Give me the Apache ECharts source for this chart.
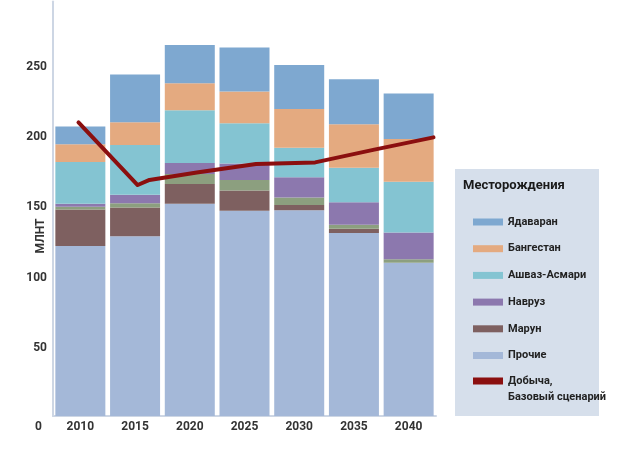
<!DOCTYPE html>
<html><head><meta charset="utf-8">
<script src="https://cdn.jsdelivr.net/npm/echarts@6/dist/echarts.min.js"></script>
<style>html,body{margin:0;padding:0;background:#fff}#c{width:640px;height:468px}</style>
</head><body><div id="c"></div>
<script>
const categories = ['2010','2015','2020','2025','2030','2035','2040'];
const prochie   = [121, 128, 151, 146, 146.4, 130.3, 109];
const marun     = [26, 20.4, 14.2, 14.5, 3.8, 3, 0];
const other     = [2, 3.1, 7.1, 7.4, 5.4, 2.8, 2.6];
const navruz    = [2, 5.9, 7.7, 11.9, 14.3, 16, 19];
const ashvaz    = [29.7, 35.4, 37.7, 28.6, 21.1, 24.6, 36.1];
const bangestan = [12.8, 16.3, 19.2, 22.6, 27.5, 30.9, 30.4];
const yadavaran = [12.6, 34, 27.2, 31.3, 31.3, 32, 32.5];
const lineYears = [2010, 2015, 2016, 2020, 2025, 2030, 2035, 2040];
const lineVals  = [209, 164.4, 168, 173.3, 179.4, 180.5, 189.6, 198.3];
const yTicks = [0, 50, 100, 150, 200, 250];

const FONT = "Roboto, 'Liberation Sans', sans-serif";
const colors = {
  'Ядаваран': '#7ea8d0',
  'Бангестан': '#e4aa80',
  'Ашваз-Асмари': '#84c4d2',
  'Навруз': '#8c78ae',
  'Другие': '#8c9f7f',
  'Марун': '#7e6060',
  'Прочие': '#a4b8d8'
};
const LINE_NAME = 'Добыча,\nБазовый сценарий';
const LINE_COLOR = '#8b0f0f';
const PX = 1.405, Y0 = 416, YMAX = 295;

function bar(name, data) {
  return { name, type: 'bar', stack: 'total', data, barWidth: 50,
    itemStyle: { color: colors[name] }, xAxisIndex: 0, yAxisIndex: 0 };
}

const labelBase = { color: '#333', fontFamily: FONT, fontWeight: 'bold', fontSize: 12 };

const chart = echarts.init(document.getElementById('c'));
chart.setOption({
  animation: false,
  backgroundColor: '#fff',
  grid: { left: 53, width: 383, top: Y0 - YMAX * PX, height: YMAX * PX, containLabel: false },
  xAxis: [
    { type: 'category', data: categories,
      axisLine: { lineStyle: { color: '#cdd6e4', width: 2 } },
      axisTick: { show: false },
      axisLabel: Object.assign({ margin: 5 }, labelBase) },
    { type: 'value', min: 2007.845, max: 2040.211, show: false }
  ],
  yAxis: {
    type: 'value', min: 0, max: YMAX, interval: 50,
    axisLine: { show: true, lineStyle: { color: '#cdd6e4', width: 2 } },
    axisTick: { show: false },
    splitLine: { show: false },
    axisLabel: Object.assign({
      margin: 6,
      showMaxLabel: false,
      formatter: v => yTicks.indexOf(v) < 0 ? '' : (v === 0 ? '{z|0}' : '{n|' + v + '}'),
      rich: {
        z: Object.assign({ padding: [22, 5, 0, 0] }, labelBase),
        n: Object.assign({ padding: [4, 0, 0, 0] }, labelBase)
      }
    }, labelBase)
  },
  legend: [
    { orient: 'vertical', left: 468, top: 209, itemWidth: 30, itemHeight: 7, itemGap: 10.7,
      icon: 'rect', selectedMode: false,
      textStyle: { color: '#222', fontFamily: FONT, fontWeight: 'bold', fontSize: 11, lineHeight: 16 },
      data: ['Ядаваран', 'Бангестан', 'Ашваз-Асмари', 'Навруз', 'Марун', 'Прочие'] },
    { orient: 'vertical', left: 468, top: 368, itemWidth: 30, itemHeight: 23, selectedMode: false,
      textStyle: { color: '#222', fontFamily: FONT, fontWeight: 'bold', fontSize: 11, lineHeight: 16 },
      data: [{ name: LINE_NAME, icon: 'path://M0,0H30V7H0Z M0,22.99H0.01V23H0Z' }] }
  ],
  graphic: [
    { type: 'rect', left: 455, top: 169, z: -10, shape: { width: 144, height: 247 }, style: { fill: '#d6dfeb' } },
    { type: 'text', left: 463, top: 179, style: { text: 'Месторождения', fill: '#1a1a1a', font: 'bold 13px ' + FONT } },
    { type: 'text', x: 40.5, y: 236, rotation: Math.PI / 2,
      style: { text: 'МЛНТ', fill: '#333', font: 'bold 12px ' + FONT, align: 'center', verticalAlign: 'middle' } }
  ],
  series: [
    bar('Прочие', prochie),
    bar('Марун', marun),
    bar('Другие', other),
    bar('Навруз', navruz),
    bar('Ашваз-Асмари', ashvaz),
    bar('Бангестан', bangestan),
    bar('Ядаваран', yadavaran),
    { name: LINE_NAME, type: 'line', xAxisIndex: 1, yAxisIndex: 0,
      data: lineYears.map((y, i) => [y, lineVals[i]]),
      showSymbol: false, symbol: 'none', z: 10,
      itemStyle: { color: LINE_COLOR },
      lineStyle: { color: LINE_COLOR, width: 4, join: 'round', cap: 'round' } }
  ]
});
</script></body></html>
